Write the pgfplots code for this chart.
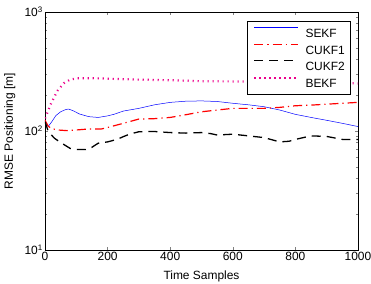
\documentclass[border=0pt]{standalone}
\usepackage{pgfplots}
\pgfplotsset{compat=1.18}
\usepackage{fontspec}
\setmainfont{Liberation Sans}
\begin{document}
\fontsize{12}{14}\selectfont
\begin{tikzpicture}
\useasboundingbox (-45bp,-34bp) rectangle (326bp,250bp);
\begin{axis}[
  at={(0,0)}, anchor=south west,
  scale only axis, width=313bp, height=238bp,
  ymode=log, xmin=0, xmax=1000, ymin=10, ymax=1000,
  xtick={0,200,400,600,800,1000},
  ytick={10,100,1000},
  yticklabels={10\textsuperscript{1},10\textsuperscript{2},10\textsuperscript{3}},
  tick align=inside, tick pos=both,
  major tick length=3.5bp, minor tick length=2bp,
  /pgf/number format/assume math mode=true,
  /pgf/number format/1000 sep={},
  xlabel={Time Samples}, ylabel={RMSE Positioning [m]},
  every axis x label/.style={at={(axis description cs:0.5,0)}, anchor=base, yshift=-29.5bp},
  every axis y label/.style={at={(axis description cs:0,0.5)}, xshift=-32bp, rotate=90, anchor=base},
  every tick label/.append style={font=\fontsize{12}{14}\selectfont},
  xticklabel style={inner sep=2bp},
  yticklabel style={inner sep=2bp},
  legend cell align=left,
  legend style={at={(0.9776,0.9634)}, anchor=north east,
    draw=black, fill=white, line width=0.5pt,
    inner xsep=6bp, inner ysep=6.5bp, row sep=6bp, column sep=0bp,
    font=\fontsize{12}{14}\selectfont,
    nodes={inner sep=0pt, text height=9bp, text depth=0bp}},
  legend image code/.code={\draw[#1] (0bp,0.45em) -- (44bp,0.45em);},
]
\addplot[blue, line width=0.5pt] coordinates {
(0,123)(10,109)(20,118)(35,135)(50,145)(65,151)(75,153)(90,148)(110,139)(140,132)(170,130)(200,134)(220,138)(250,147)(300,155)(350,166)(400,174)(450,178)(500,179)(550,177)(600,171)(650,166)(700,160)(750,150)(800,138)(850,130)(900,123)(950,116)(1000,109)};
\addlegendentry{\hspace{6bp}SEKF}
\addplot[red, line width=1.2pt, dash pattern=on 9bp off 4bp on 1.2bp off 4bp] coordinates {
(0,123)(10,110)(20,105)(40,102)(70,100.7)(100,102)(140,104)(180,104)(200,107)(250,116)(300,126)(350,127)(400,130)(450,137)(500,145)(550,150)(600,155)(650,155)(700,155)(750,158)(800,163)(850,165)(900,168)(950,171)(1000,174)};
\addlegendentry{\hspace{6bp}CUKF1}
\addplot[black, line width=1.3pt, dash pattern=on 9bp off 6bp] coordinates {
(0,120)(10,100)(20,93)(30,87)(50,80)(80,71.5)(100,70)(130,70)(150,73)(170,79)(200,81)(230,85)(250,89.6)(270,94)(300,98.6)(350,99)(400,97)(450,96)(500,97)(530,95)(550,92.5)(600,94)(650,91)(700,88)(750,81)(780,82)(800,85)(850,91)(900,90)(950,85)(1000,85)};
\addlegendentry{\hspace{6bp}CUKF2}
\addplot[magenta, line width=2.2bp, dash pattern=on 1.1bp off 3.9bp] coordinates {
(0,128)(10,148)(20,172)(40,218)(60,252)(80,270)(100,277)(150,278)(200,275)(300,270)(400,267)(500,262)(600,261)(700,259)(800,257)(900,254)(1000,251)};
\addlegendentry{\hspace{6bp}BEKF}
\end{axis}
\end{tikzpicture}
\end{document}
